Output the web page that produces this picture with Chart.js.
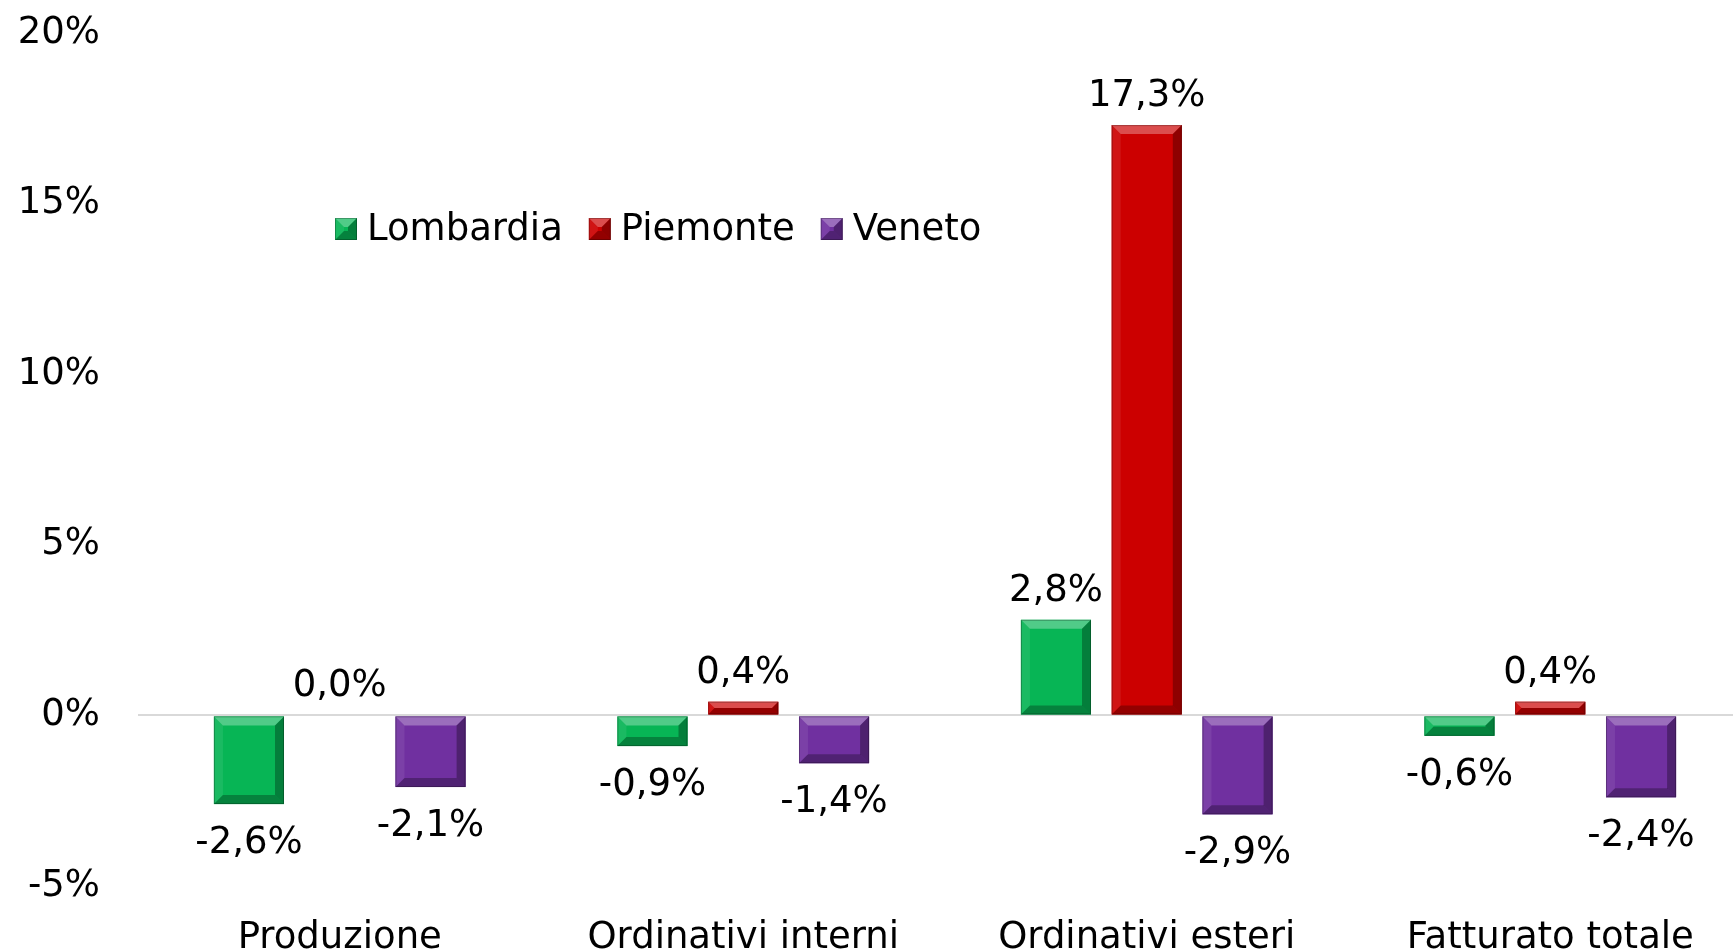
<!DOCTYPE html>
<html>
<head>
<meta charset="utf-8">
<script src="https://cdn.jsdelivr.net/npm/chart.js@4/dist/chart.umd.min.js"></script>
<style>
html,body{margin:0;padding:0;background:#fff;overflow:hidden;}
canvas{display:block;}
</style>
</head>
<body>
<canvas id="c" width="1752" height="952"></canvas>
<script>
const categories = ['Produzione', 'Ordinativi interni', 'Ordinativi esteri', 'Fatturato totale'];
const seriesNames = ['Lombardia', 'Piemonte', 'Veneto'];
const lombardia = [-2.6, -0.9, 2.8, -0.6];
const piemonte = [0.0, 0.4, 17.3, 0.4];
const veneto = [-2.1, -1.4, -2.9, -2.4];
const seriesColors = ['#07B555', '#CC0000', '#7030A0'];
const yMin = -5, yMax = 20, yStep = 5;

const FONT = 'DejaVu Sans';

function fmt(v) { return v.toFixed(1).replace('.', ',') + '%'; }

function bevel(ctx, L, T, R, B, color) {
  const w = R - L, h = B - T;
  if (h < 1 || w < 1) return;
  const b = Math.min(9, h / 2, w / 2);
  ctx.save();
  ctx.fillStyle = color;
  ctx.fillRect(L, T, w, h);
  const poly = (pts, fill) => {
    ctx.beginPath();
    ctx.moveTo(pts[0][0], pts[0][1]);
    for (let i = 1; i < pts.length; i++) ctx.lineTo(pts[i][0], pts[i][1]);
    ctx.closePath();
    ctx.fillStyle = fill;
    ctx.fill();
  };
  poly([[L, T], [R, T], [R - b, T + b], [L + b, T + b]], 'rgba(255,255,255,0.30)');
  poly([[L, T], [L + b, T + b], [L + b, B - b], [L, B]], 'rgba(255,255,255,0.08)');
  poly([[R, T], [R, B], [R - b, B - b], [R - b, T + b]], 'rgba(0,0,0,0.30)');
  poly([[L, B], [R, B], [R - b, B - b], [L + b, B - b]], 'rgba(0,0,0,0.28)');
  ctx.strokeStyle = 'rgba(0,0,0,0.25)';
  ctx.lineWidth = 1;
  ctx.strokeRect(L + 0.5, T + 0.5, w - 1, h - 1);
  ctx.restore();
}

const bevelPlugin = {
  id: 'bevelBars',
  afterDatasetsDraw(chart) {
    const ctx = chart.ctx;
    chart.data.datasets.forEach((ds, di) => {
      const meta = chart.getDatasetMeta(di);
      meta.data.forEach((el, i) => {
        const p = el.getProps(['x', 'y', 'base', 'width'], true);
        const L = p.x - p.width / 2, R = p.x + p.width / 2;
        const T = Math.min(p.y, p.base), B = Math.max(p.y, p.base);
        bevel(ctx, L, T, R, B, ds.backgroundColor);
      });
    });
  }
};

const labelPlugin = {
  id: 'valueLabels',
  afterDatasetsDraw(chart) {
    const ctx = chart.ctx;
    ctx.save();
    ctx.font = '37px "' + FONT + '"';
    ctx.fillStyle = '#000';
    ctx.textAlign = 'center';
    ctx.textBaseline = 'alphabetic';
    chart.data.datasets.forEach((ds, di) => {
      const meta = chart.getDatasetMeta(di);
      meta.data.forEach((el, i) => {
        const v = ds.data[i];
        const p = el.getProps(['x', 'y', 'base'], true);
        const y = v >= 0 ? Math.min(p.y, p.base) - 19 : Math.max(p.y, p.base) + 49;
        ctx.fillText(fmt(v), p.x, y);
      });
    });
    ctx.restore();
  }
};

const legendPlugin = {
  id: 'insideLegend',
  afterDraw(chart) {
    const ctx = chart.ctx;
    ctx.save();
    ctx.font = '37px "' + FONT + '"';
    ctx.textBaseline = 'middle';
    ctx.textAlign = 'left';
    let x = 335;
    const cy = 229, s = 22;
    chart.data.datasets.forEach((ds) => {
      bevel(ctx, x, cy - s / 2, x + s, cy + s / 2, ds.backgroundColor);
      ctx.fillStyle = '#000';
      const tx = x + 32;
      ctx.fillText(ds.label, tx, cy + 1);
      x = tx + ctx.measureText(ds.label).width + 26;
    });
    ctx.restore();
  }
};

Chart.defaults.font.family = FONT;
Chart.defaults.color = '#000';

new Chart(document.getElementById('c'), {
  type: 'bar',
  data: {
    labels: categories,
    datasets: [
      { label: seriesNames[0], data: lombardia, backgroundColor: seriesColors[0] },
      { label: seriesNames[1], data: piemonte, backgroundColor: seriesColors[1] },
      { label: seriesNames[2], data: veneto, backgroundColor: seriesColors[2] }
    ]
  },
  options: {
    responsive: false,
    animation: false,
    devicePixelRatio: 1,
    categoryPercentage: 0.675,
    barPercentage: 0.772,
    layout: { padding: { top: 33, left: 0, right: 0, bottom: 0 } },
    plugins: {
      legend: { display: false },
      tooltip: { enabled: false }
    },
    scales: {
      x: {
        grid: { display: false, drawTicks: false },
        border: { display: false },
        ticks: { font: { size: 37 }, padding: 30, maxRotation: 0, autoSkip: false },
        afterFit(scale) { scale.height = 66; scale.paddingLeft = 0; scale.paddingRight = 0; }
      },
      y: {
        min: yMin, max: yMax,
        border: { display: false },
        grid: {
          drawTicks: false,
          lineWidth: 2,
          color: (c) => (c.tick && c.tick.value === 0) ? '#D9D9D9' : 'rgba(0,0,0,0)'
        },
        ticks: {
          stepSize: yStep,
          font: { size: 37 },
          padding: 38,
          callback: (v) => v + '%'
        },
        afterFit(scale) { scale.width = 138; scale.paddingTop = 0; scale.paddingBottom = 0; }
      }
    }
  },
  plugins: [bevelPlugin, labelPlugin, legendPlugin]
});
</script>
</body>
</html>
